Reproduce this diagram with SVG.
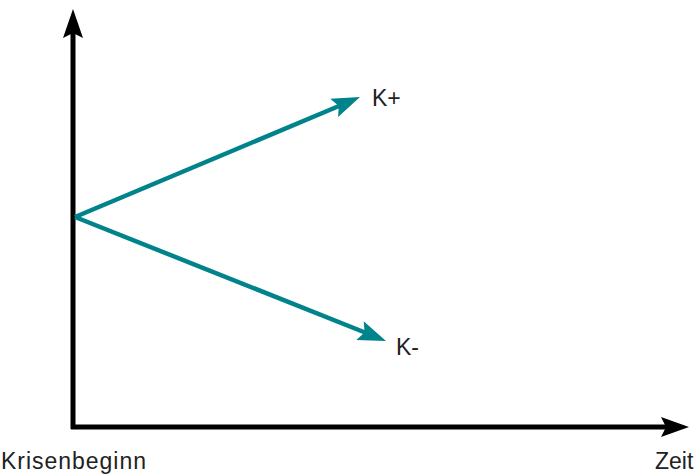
<svg xmlns="http://www.w3.org/2000/svg" width="697" height="475" viewBox="0 0 697 475">
<style>
.axis{stroke:#000;stroke-width:5;fill:none}
.ah{fill:#000}
.k{stroke:#00838a;stroke-width:4.5;fill:none}
.kh{fill:#00838a}
.lbl{font-family:"Liberation Sans",Arial,sans-serif;font-size:23px;fill:#222}
</style>
<rect width="697" height="475" fill="#fff"/>
<g id="connectors">
<line class="axis" x1="73" y1="429" x2="73" y2="32"/>
<polygon class="ah" points="73,9 83,38 73,33 63,38"/>
<line class="axis" x1="71" y1="427" x2="666" y2="427"/>
<polygon class="ah" points="689,427 661,417 666,427 661,437"/>
<line class="k" x1="75" y1="217" x2="339" y2="106"/>
<polygon class="kh" points="360,97 338.1,117.1 338.8,105.9 330.3,98.7"/>
<line class="k" x1="75" y1="217" x2="365" y2="332.5"/>
<polygon class="kh" points="386,341 356.3,339.9 364.6,332.5 363.7,321.3"/>
</g>
<g id="label-kplus"><text class="lbl" x="372" y="106">K+</text></g>
<g id="label-kminus"><text class="lbl" x="396" y="355">K-</text></g>
<g id="label-krisenbeginn"><text class="lbl" x="1" y="469" textLength="145">Krisenbeginn</text></g>
<g id="label-zeit"><text class="lbl" x="655" y="469">Zeit</text></g>
</svg>
